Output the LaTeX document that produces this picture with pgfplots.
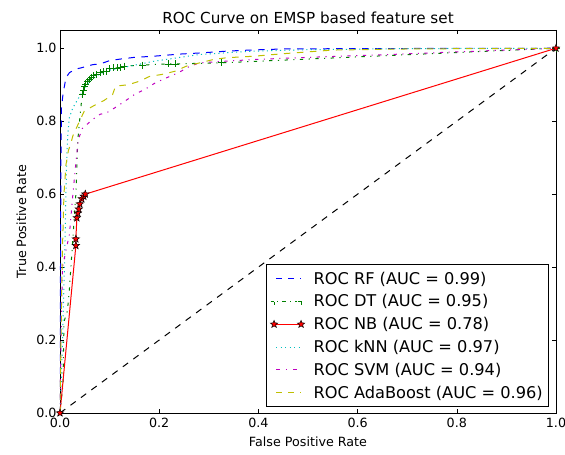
\documentclass[border=0pt]{standalone}
\usepackage{pgfplots}
\pgfplotsset{compat=1.18}
\usepackage{fontspec}
\setmainfont{DejaVu Sans}
\pgfdeclareplotmark{fstar}{%
  \pgfpathmoveto{\pgfpointpolar{90}{1.3\pgfplotmarksize}}%
  \pgfpathlineto{\pgfpointpolar{126}{0.55\pgfplotmarksize}}%
  \pgfpathlineto{\pgfpointpolar{162}{1.3\pgfplotmarksize}}%
  \pgfpathlineto{\pgfpointpolar{198}{0.55\pgfplotmarksize}}%
  \pgfpathlineto{\pgfpointpolar{234}{1.3\pgfplotmarksize}}%
  \pgfpathlineto{\pgfpointpolar{270}{0.55\pgfplotmarksize}}%
  \pgfpathlineto{\pgfpointpolar{306}{1.3\pgfplotmarksize}}%
  \pgfpathlineto{\pgfpointpolar{342}{0.55\pgfplotmarksize}}%
  \pgfpathlineto{\pgfpointpolar{18}{1.3\pgfplotmarksize}}%
  \pgfpathlineto{\pgfpointpolar{54}{0.55\pgfplotmarksize}}%
  \pgfpathclose
  \pgfusepathqfillstroke}
\definecolor{mb}{rgb}{0,0,1}
\definecolor{mg}{rgb}{0,0.5,0}
\definecolor{mr}{rgb}{1,0,0}
\definecolor{mc}{rgb}{0,0.75,0.75}
\definecolor{mm}{rgb}{0.75,0,0.75}
\definecolor{my}{rgb}{0.75,0.75,0}
\begin{document}
\begin{tikzpicture}
\begin{axis}[
  name=ax,
  scale only axis,
  width=496pt, height=383pt,
  xmin=0, xmax=1, ymin=0, ymax=1.05,
  xtick={0,0.2,0.4,0.6,0.8,1.0},
  ytick={0,0.2,0.4,0.6,0.8,1.0},
  tick align=inside, tick pos=both,
  major tick length=4pt,
  tick style={black, line width=0.6pt},
  axis line style={black, line width=0.8pt},
  /pgf/number format/assume math mode=true,
  xticklabel style={font=\fontsize{12.7}{14}\selectfont, yshift=-1.5pt, /pgf/number format/.cd, fixed, fixed zerofill, precision=1},
  yticklabel style={font=\fontsize{12.7}{14}\selectfont, /pgf/number format/.cd, fixed, fixed zerofill, precision=1},
  title={ROC Curve on EMSP based feature set},
  title style={font=\fontsize{15.2}{17}\selectfont, yshift=-3pt},
  xlabel={False Positive Rate},
  ylabel={True Positive Rate},
  xlabel style={yshift=-2pt},
  ylabel style={yshift=3pt},
  label style={font=\fontsize{12.7}{14}\selectfont},
  legend style={at={(0.986,0.016)}, anchor=south east, font=\fontsize{16.2}{18}\selectfont,
    line width=0.6pt, row sep=5pt, inner xsep=4pt, inner ysep=5pt},
  legend cell align=left,
  every axis plot/.append style={line width=1pt},
]
% RF
\addplot[color=mb, dash pattern=on 6.5pt off 6.5pt, no marks,
  legend image code/.code={\draw[mb, line width=1pt, dash pattern=on 6pt off 6pt] (2pt,0pt) -- (27pt,0pt); \path (-2pt,0pt) (37pt,0pt);}] coordinates {
(0,0) (0.001,0.4) (0.002,0.7) (0.003,0.836) (0.006,0.874) (0.012,0.919) (0.019,0.933)
(0.032,0.943) (0.042,0.946) (0.066,0.955) (0.081,0.957) (0.1,0.966) (0.12,0.970) (0.15,0.975)
(0.188,0.978) (0.242,0.984) (0.282,0.987) (0.336,0.992) (0.383,0.995) (0.45,0.998) (0.6,0.999) (1,1)};
\addlegendentry{ROC RF (AUC = 0.99)}
% DT lower (no marks)
\addplot[color=mg, dash pattern=on 3.3pt off 5.5pt on 1.1pt off 5.5pt, no marks, forget plot] coordinates {
(0,0) (0.006,0.08) (0.008,0.25) (0.015,0.28) (0.019,0.34) (0.024,0.44) (0.032,0.6)
(0.036,0.75) (0.043,0.85) (0.046,0.873)};
% DT
\addplot[color=mg, dash pattern=on 3.3pt off 5.5pt on 1.1pt off 5.5pt, mark=+, mark size=3.5pt, mark options={solid, line width=0.8pt},
  legend image code/.code={\draw[mg, line width=1pt, dash pattern=on 1.2pt off 4pt on 4pt off 4pt on 1.2pt off 4pt] (3pt,0pt) -- (27pt,0pt);
  \draw[mg, line width=0.8pt] (-3.5pt,0pt) -- (3.5pt,0pt) (0pt,-3.5pt) -- (0pt,3.5pt) (23.5pt,0pt) -- (30.5pt,0pt) (27pt,-3.5pt) -- (27pt,3.5pt); \path (-2pt,0pt) (37pt,0pt);}] coordinates {
(0.046,0.873) (0.048,0.885) (0.05,0.895) (0.052,0.902) (0.055,0.908) (0.059,0.915)
(0.063,0.92) (0.068,0.925) (0.073,0.928) (0.081,0.933) (0.087,0.936) (0.093,0.937)
(0.1,0.944) (0.108,0.946) (0.116,0.946) (0.121,0.948) (0.129,0.951) (0.167,0.954)
(0.218,0.957) (0.232,0.957) (0.326,0.96) (1,1)};
\addlegendentry{ROC DT (AUC = 0.95)}
% NB
\addplot[color=mr, solid, mark=fstar, mark size=3pt, mark options={fill=mr, draw=black, line width=0.5pt},
  legend image code/.code={\draw[mr, line width=1pt, mark=fstar, mark size=3pt, mark options={fill=mr, draw=black, line width=0.5pt}] plot coordinates {(0pt,0pt) (27pt,0pt)}; \path (-2pt,0pt) (37pt,0pt);}] coordinates {
(0,0) (0.032,0.459) (0.032,0.477) (0.034,0.535) (0.036,0.548) (0.038,0.559) (0.040,0.573)
(0.044,0.587) (0.048,0.594) (0.051,0.6) (1,1)};
\addlegendentry{ROC NB (AUC = 0.78)}
% kNN
\addplot[color=mc, dash pattern=on 1.1pt off 3.3pt, no marks,
  legend image code/.code={\draw[mc, line width=1pt, dash pattern=on 1.2pt off 3.3pt] (2pt,0pt) -- (27pt,0pt); \path (-2pt,0pt) (37pt,0pt);}] coordinates {
(0,0) (0.003,0.1) (0.006,0.25) (0.009,0.4) (0.012,0.6) (0.014,0.72) (0.016,0.77)
(0.019,0.81) (0.026,0.837) (0.036,0.86) (0.046,0.883) (0.06,0.91) (0.08,0.93) (0.1,0.94)
(0.141,0.951) (0.188,0.964) (0.282,0.983) (0.39,0.992) (0.5,0.996) (0.7,0.999) (1,1)};
\addlegendentry{ROC kNN (AUC = 0.97)}
% SVM
\addplot[color=mm, dash pattern=on 3.3pt off 5.5pt on 1.1pt off 5.5pt, no marks,
  legend image code/.code={\draw[mm, line width=1pt, dash pattern=on 4pt off 6pt on 1.2pt off 6pt] (2pt,0pt) -- (27pt,0pt); \path (-2pt,0pt) (37pt,0pt);}] coordinates {
(0,0) (0.002,0.2) (0.005,0.4) (0.019,0.49) (0.026,0.6) (0.033,0.7) (0.037,0.75)
(0.045,0.78) (0.066,0.805) (0.081,0.819) (0.094,0.823) (0.111,0.837) (0.131,0.855)
(0.151,0.874) (0.171,0.887) (0.192,0.905) (0.215,0.919) (0.239,0.933) (0.262,0.951)
(0.282,0.96) (0.316,0.963) (0.39,0.969) (0.5,0.975) (0.65,0.982) (0.8,0.99) (0.9,0.995) (1,1)};
\addlegendentry{ROC SVM (AUC = 0.94)}
% AdaBoost
\addplot[color=my, dash pattern=on 6.5pt off 6.5pt, no marks,
  legend image code/.code={\draw[my, line width=1pt, dash pattern=on 6pt off 6pt] (2pt,0pt) -- (27pt,0pt); \path (-2pt,0pt) (37pt,0pt);}] coordinates {
(0,0) (0.003,0.3) (0.005,0.45) (0.008,0.6) (0.012,0.68) (0.017,0.72) (0.022,0.74)
(0.026,0.76) (0.036,0.79) (0.049,0.828) (0.073,0.846) (0.089,0.857) (0.106,0.873)
(0.112,0.896) (0.138,0.9) (0.161,0.91) (0.181,0.923) (0.205,0.928) (0.232,0.937)
(0.255,0.951) (0.282,0.96) (0.309,0.969) (0.336,0.974) (0.39,0.978) (0.45,0.985)
(0.55,0.995) (0.7,0.998) (1,1)};
\addlegendentry{ROC AdaBoost (AUC = 0.96)}
% diagonal
\addplot[color=black, dash pattern=on 6.5pt off 6.5pt, no marks, forget plot] coordinates {(0,0) (1,1)};
\end{axis}
\pgfresetboundingbox
\path[use as bounding box] ([shift={(-60pt,-42pt)}]ax.south west) rectangle ([shift={(9pt,30pt)}]ax.north east);
\end{tikzpicture}
\end{document}
